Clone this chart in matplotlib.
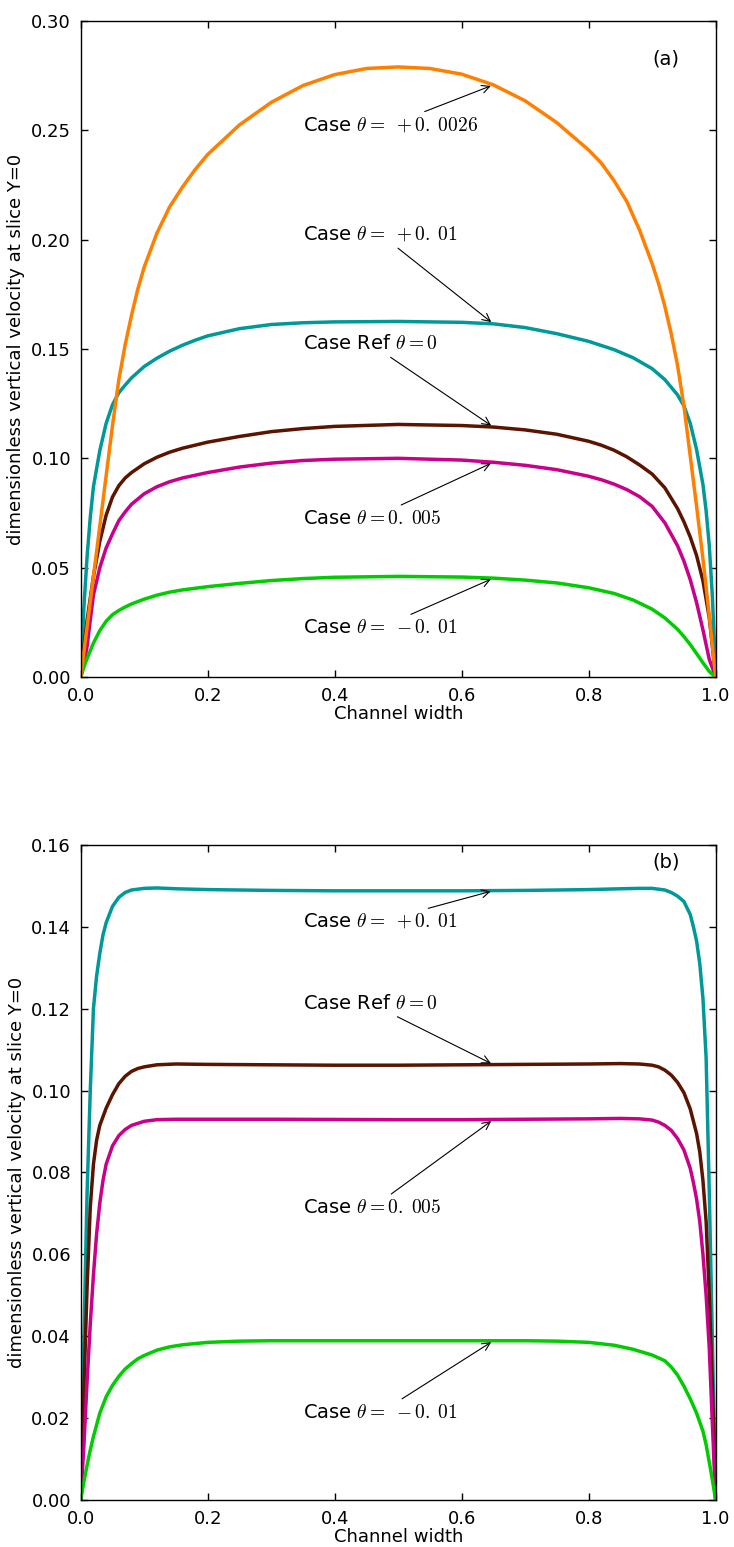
"""
Vertical velocity profiles across the channel at slice Y=0,
two panels (a) and (b), five cases each.
"""

import numpy as np
import matplotlib
matplotlib.use("Agg")
import matplotlib.pyplot as plt

plt.rcParams["mathtext.fontset"] = "cm"
plt.rcParams["font.family"] = "DejaVu Sans"

# ---------- colours ----------
C_ORANGE = "#ff7f00"
C_TEAL = "#009999"
C_BROWN = "#5a1400"
C_MAGENTA = "#c8008a"
C_GREEN = "#00cc00"

# ---------- panel (a) data ----------
a_orange_x = [0, 0.01, 0.02, 0.03, 0.04, 0.05, 0.06, 0.07, 0.08, 0.09, 0.1, 0.12, 0.14, 0.16, 0.18,
              0.2, 0.25, 0.3, 0.35, 0.4, 0.45, 0.5, 0.55, 0.6, 0.65, 0.7, 0.75, 0.8, 0.82, 0.84,
              0.86, 0.88, 0.9, 0.91, 0.92, 0.93, 0.94, 0.95, 0.96, 0.97, 0.98, 0.99, 1.0]
a_orange_y = [0, 0.023, 0.046, 0.069, 0.092, 0.115, 0.136, 0.152, 0.1655, 0.1775, 0.1875, 0.203, 0.215, 0.224, 0.232,
              0.239, 0.2525, 0.2628, 0.2705, 0.2755, 0.2783, 0.279, 0.2783, 0.2757, 0.2708, 0.2635, 0.2535, 0.241, 0.235, 0.227,
              0.2175, 0.2045, 0.189, 0.18, 0.1695, 0.157, 0.1425, 0.124, 0.101, 0.078, 0.054, 0.028, 0]

a_teal_x = [0, 0.005, 0.01, 0.015, 0.02, 0.03, 0.04, 0.05, 0.06, 0.07, 0.08, 0.1, 0.12, 0.14, 0.16,
            0.18, 0.2, 0.25, 0.3, 0.35, 0.4, 0.5, 0.6, 0.65, 0.7, 0.75, 0.8, 0.84, 0.87, 0.9,
            0.92, 0.94, 0.95, 0.96, 0.97, 0.98, 0.985, 0.99, 0.995, 1.0]
a_teal_y = [0, 0.032, 0.055, 0.073, 0.087, 0.1035, 0.116, 0.1245, 0.13, 0.1335, 0.1368, 0.142, 0.1458, 0.149, 0.1517,
            0.154, 0.156, 0.1593, 0.1612, 0.162, 0.1624, 0.1626, 0.1622, 0.1615, 0.1598, 0.157, 0.1535, 0.1497, 0.146, 0.141,
            0.136, 0.129, 0.124, 0.116, 0.104, 0.088, 0.076, 0.06, 0.036, 0]

a_brown_x = [0, 0.005, 0.01, 0.015, 0.02, 0.03, 0.04, 0.05, 0.06, 0.07, 0.08, 0.1, 0.12, 0.14, 0.16,
             0.2, 0.25, 0.3, 0.35, 0.4, 0.5, 0.6, 0.65, 0.7, 0.75, 0.8, 0.82, 0.84, 0.86, 0.88,
             0.9, 0.92, 0.94, 0.95, 0.96, 0.97, 0.98, 0.99, 1.0]
a_brown_y = [0, 0.014, 0.026, 0.036, 0.046, 0.062, 0.074, 0.0823, 0.0875, 0.091, 0.0935, 0.0975, 0.1005, 0.1028, 0.1046,
             0.1074, 0.11, 0.1122, 0.1136, 0.1146, 0.1155, 0.115, 0.1143, 0.113, 0.111, 0.1078, 0.106, 0.1037, 0.1007, 0.097,
             0.0928, 0.0865, 0.077, 0.071, 0.064, 0.0555, 0.044, 0.027, 0]

a_magenta_x = [0, 0.005, 0.01, 0.015, 0.02, 0.03, 0.04, 0.05, 0.06, 0.07, 0.08, 0.1, 0.12, 0.14, 0.16,
               0.2, 0.25, 0.3, 0.35, 0.4, 0.5, 0.6, 0.65, 0.7, 0.75, 0.8, 0.82, 0.84, 0.86, 0.88,
               0.9, 0.92, 0.94, 0.95, 0.96, 0.97, 0.98, 0.99, 1.0]
a_magenta_y = [0, 0.006, 0.014, 0.026, 0.0375, 0.05, 0.059, 0.0655, 0.0715, 0.0755, 0.079, 0.0838, 0.087, 0.0893, 0.091,
               0.0935, 0.096, 0.0978, 0.099, 0.0996, 0.1, 0.0992, 0.0982, 0.0968, 0.0948, 0.0918, 0.0902, 0.0882, 0.0857, 0.0825,
               0.078, 0.0705, 0.06, 0.053, 0.0445, 0.034, 0.0215, 0.008, 0]

a_green_x = [0, 0.005, 0.01, 0.02, 0.03, 0.04, 0.05, 0.06, 0.07, 0.08, 0.1, 0.12, 0.14, 0.16, 0.2,
             0.25, 0.3, 0.35, 0.4, 0.5, 0.6, 0.65, 0.7, 0.75, 0.8, 0.84, 0.87, 0.9, 0.92, 0.94,
             0.95, 0.96, 0.97, 0.98, 0.99, 1.0]
a_green_y = [0, 0.0045, 0.0085, 0.0155, 0.0212, 0.0255, 0.0285, 0.0304, 0.032, 0.0334, 0.0356, 0.0374, 0.0388, 0.0398, 0.0413,
             0.0428, 0.0441, 0.045, 0.0456, 0.046, 0.0457, 0.0452, 0.0443, 0.043, 0.0408, 0.0382, 0.0352, 0.031, 0.027, 0.0218,
             0.0185, 0.0148, 0.0107, 0.0065, 0.0025, 0]

# ---------- panel (b) data ----------
b_teal_x = [0, 0.005, 0.01, 0.015, 0.02, 0.025, 0.03, 0.035, 0.04, 0.05, 0.06, 0.07, 0.08, 0.1, 0.12,
            0.15, 0.2, 0.3, 0.4, 0.5, 0.6, 0.7, 0.8, 0.85, 0.88, 0.9, 0.92, 0.93, 0.94, 0.95,
            0.96, 0.965, 0.97, 0.975, 0.98, 0.985, 0.99, 0.995, 1.0]
b_teal_y = [0, 0.04, 0.075, 0.1, 0.12, 0.128, 0.1335, 0.138, 0.141, 0.145, 0.1472, 0.1484, 0.149, 0.1494, 0.1495,
            0.1493, 0.1491, 0.1489, 0.1488, 0.1488, 0.1488, 0.1489, 0.1491, 0.1493, 0.1494, 0.1494, 0.149, 0.1484, 0.1475, 0.1462,
            0.143, 0.14, 0.1365, 0.131, 0.1225, 0.108, 0.075, 0.038, 0]

b_brown_x = [0, 0.005, 0.01, 0.015, 0.02, 0.025, 0.03, 0.04, 0.05, 0.06, 0.07, 0.08, 0.09, 0.1, 0.12,
             0.15, 0.2, 0.3, 0.4, 0.5, 0.6, 0.7, 0.8, 0.85, 0.88, 0.9, 0.91, 0.92, 0.93, 0.94,
             0.95, 0.96, 0.97, 0.975, 0.98, 0.985, 0.99, 0.995, 1.0]
b_brown_y = [0, 0.027, 0.052, 0.0715, 0.082, 0.0879, 0.0915, 0.0957, 0.099, 0.1017, 0.1035, 0.1047, 0.1054, 0.1058, 0.1063,
             0.1065, 0.1064, 0.1063, 0.1062, 0.1062, 0.1063, 0.1064, 0.1065, 0.1066, 0.1065, 0.1062, 0.1058, 0.105, 0.1038, 0.102,
             0.0995, 0.0955, 0.0895, 0.085, 0.078, 0.068, 0.05, 0.027, 0]

b_magenta_x = [0, 0.005, 0.01, 0.015, 0.02, 0.025, 0.03, 0.035, 0.04, 0.05, 0.06, 0.07, 0.08, 0.1, 0.12,
               0.15, 0.3, 0.5, 0.6, 0.7, 0.8, 0.85, 0.88, 0.9, 0.91, 0.92, 0.93, 0.94, 0.95, 0.96,
               0.965, 0.97, 0.975, 0.98, 0.985, 0.99, 0.995, 1.0]
b_magenta_y = [0, 0.0135, 0.029, 0.043, 0.055, 0.065, 0.0725, 0.078, 0.082, 0.0865, 0.089, 0.0905, 0.0915, 0.0925, 0.0929,
               0.093, 0.093, 0.0929, 0.0929, 0.093, 0.0931, 0.0932, 0.0931, 0.0928, 0.0923, 0.0915, 0.0903, 0.0883, 0.0855, 0.081,
               0.0775, 0.0735, 0.068, 0.06, 0.05, 0.037, 0.018, 0]

b_green_x = [0, 0.005, 0.01, 0.015, 0.02, 0.03, 0.04, 0.05, 0.06, 0.07, 0.08, 0.09, 0.1, 0.12, 0.14,
             0.16, 0.2, 0.25, 0.3, 0.5, 0.7, 0.75, 0.8, 0.84, 0.87, 0.9, 0.92, 0.93, 0.94, 0.95,
             0.96, 0.97, 0.98, 0.985, 0.99, 0.995, 1.0]
b_green_y = [0, 0.0045, 0.0085, 0.0122, 0.0155, 0.0212, 0.0252, 0.028, 0.0302, 0.032, 0.0333, 0.0345, 0.0353, 0.0366, 0.0374,
             0.0379, 0.0385, 0.0388, 0.0389, 0.0389, 0.0389, 0.0388, 0.0385, 0.0378, 0.0368, 0.0354, 0.034, 0.0325, 0.0305, 0.0278,
             0.0247, 0.0212, 0.0168, 0.0135, 0.0092, 0.0048, 0]

# ---------- annotation labels ----------
a_labels = [r"Case $\theta=\;+0.\;0026$", r"Case $\theta=\;+0.\;01$", r"Case Ref $\theta=0$",
            r"Case $\theta=0.\;005$", r"Case $\theta=\;-0.\;01$"]
a_label_y = [0.25, 0.20, 0.15, 0.07, 0.02]
b_labels = [r"Case $\theta=\;+0.\;01$", r"Case Ref $\theta=0$",
            r"Case $\theta=0.\;005$", r"Case $\theta=\;-0.\;01$"]
b_label_y = [0.14, 0.12, 0.07, 0.02]
label_x = 0.35
arrow_x = 0.65


def style_axes(ax, ymax, yticks):
    ax.set_xlim(0, 1)
    ax.set_ylim(0, ymax)
    ax.set_xticks([0.0, 0.2, 0.4, 0.6, 0.8, 1.0])
    ax.set_yticks(yticks)
    ax.xaxis.set_major_formatter(plt.FormatStrFormatter("%.1f"))
    ax.yaxis.set_major_formatter(plt.FormatStrFormatter("%.2f"))
    ax.tick_params(direction="in", top=True, right=True, length=5, width=1,
                   labelsize=13, pad=7)
    ax.set_xlabel("Channel width", fontsize=13, labelpad=0)
    ax.set_ylabel("dimensionless vertical velocity at slice Y=0", fontsize=13)
    for sp in ax.spines.values():
        sp.set_linewidth(1.0)


def annotate_all(ax, labels, label_ys, series):
    for text, ty, (xs, ys) in zip(labels, label_ys, series):
        yt = np.interp(arrow_x, xs, ys)
        ax.annotate(text, xy=(arrow_x, yt), xytext=(label_x, ty), fontsize=14,
                    arrowprops=dict(arrowstyle="->", color="black", lw=0.8))


fig = plt.figure(figsize=(7.34, 15.47), dpi=100)
ax_a = fig.add_axes([0.110, 0.5624, 0.865, 0.4240])
ax_b = fig.add_axes([0.110, 0.0304, 0.865, 0.4234])

lw = 2.5
# --- (a) ---
ax_a.plot(a_teal_x, a_teal_y, color=C_TEAL, lw=lw)
ax_a.plot(a_brown_x, a_brown_y, color=C_BROWN, lw=lw)
ax_a.plot(a_magenta_x, a_magenta_y, color=C_MAGENTA, lw=lw)
ax_a.plot(a_green_x, a_green_y, color=C_GREEN, lw=lw)
ax_a.plot(a_orange_x, a_orange_y, color=C_ORANGE, lw=lw)
style_axes(ax_a, 0.30, [0.0, 0.05, 0.10, 0.15, 0.20, 0.25, 0.30])
annotate_all(ax_a, a_labels, a_label_y,
             [(a_orange_x, a_orange_y), (a_teal_x, a_teal_y), (a_brown_x, a_brown_y),
              (a_magenta_x, a_magenta_y), (a_green_x, a_green_y)])
ax_a.text(0.9, 0.28, "(a)", fontsize=14)

# --- (b) ---
ax_b.plot(b_teal_x, b_teal_y, color=C_TEAL, lw=lw)
ax_b.plot(b_brown_x, b_brown_y, color=C_BROWN, lw=lw)
ax_b.plot(b_magenta_x, b_magenta_y, color=C_MAGENTA, lw=lw)
ax_b.plot(b_green_x, b_green_y, color=C_GREEN, lw=lw)
style_axes(ax_b, 0.16, [0.0, 0.02, 0.04, 0.06, 0.08, 0.10, 0.12, 0.14, 0.16])
annotate_all(ax_b, b_labels, b_label_y,
             [(b_teal_x, b_teal_y), (b_brown_x, b_brown_y),
              (b_magenta_x, b_magenta_y), (b_green_x, b_green_y)])
ax_b.text(0.9, 0.1545, "(b)", fontsize=14)

fig.savefig("out.png", dpi=100)
